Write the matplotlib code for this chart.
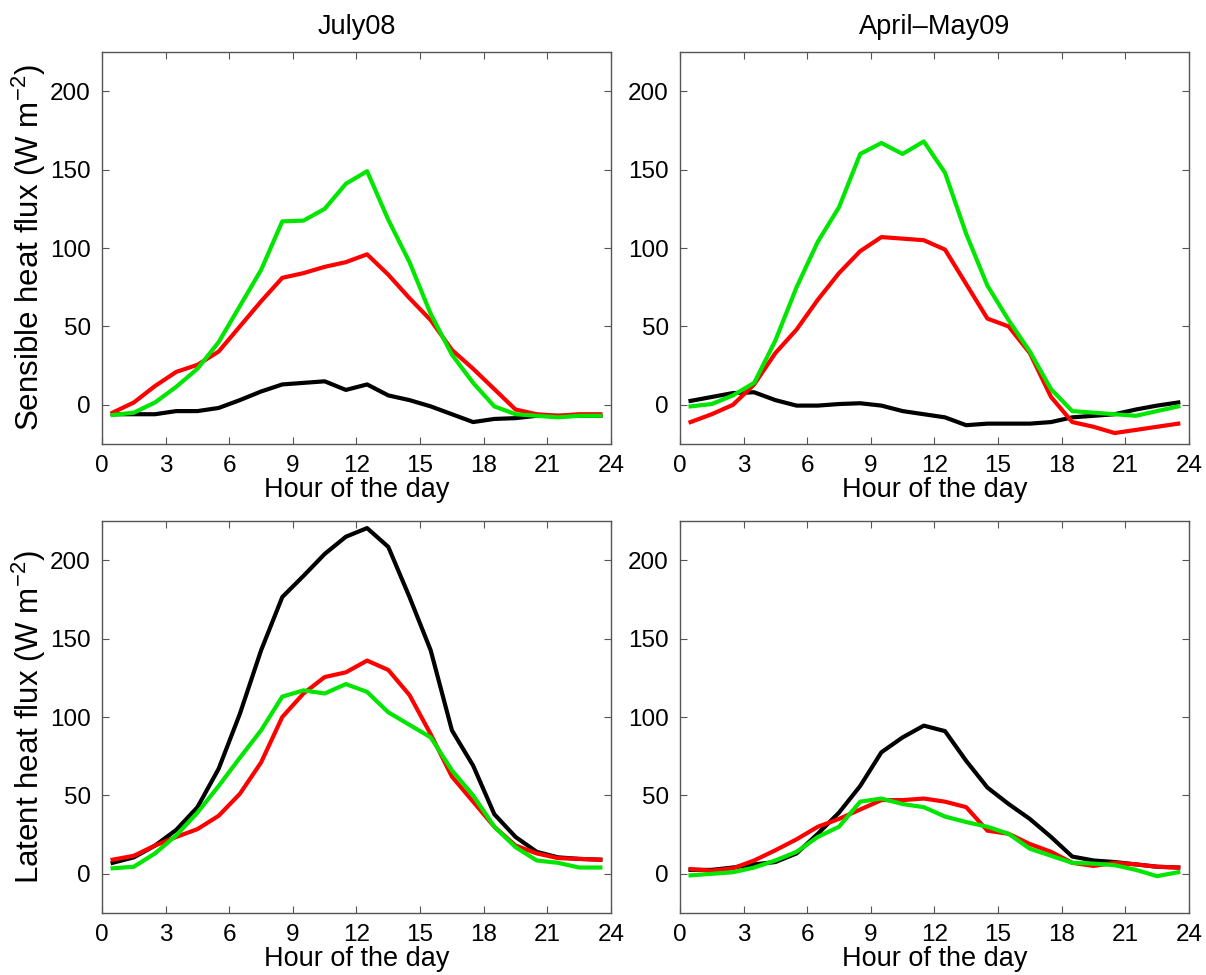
import matplotlib
matplotlib.use("Agg")
import matplotlib.pyplot as plt

plt.rcParams["font.family"] = ["Liberation Sans", "DejaVu Sans"]
plt.rcParams["mathtext.fontset"] = "custom"
plt.rcParams["mathtext.rm"] = "Liberation Sans"
plt.rcParams["mathtext.it"] = "Liberation Sans:italic"

hours = [h + 0.5 for h in range(24)]

# Sensible heat flux, July08
sh_jul_black = [-6, -6, -6, -4, -4, -2, 3, 8.5, 13, 14, 15, 9.5,
                13, 6, 3, -1, -6, -11, -9, -8.5, -7, -7, -7, -7]
sh_jul_red = [-5, 1.5, 12, 21, 25.5, 34, 50, 66, 81, 84, 88, 91,
              96, 83, 68, 54, 35, 23, 10, -3, -6, -7, -6, -6]
sh_jul_green = [-6.5, -5, 1.5, 11.5, 23, 40, 63, 86, 117, 117.5, 125, 141,
                149, 118, 91, 58, 32, 14, -1, -6, -7, -8, -7, -7]

# Sensible heat flux, April-May09
sh_apr_black = [2.5, 5, 7.5, 8, 3, -0.5, -0.5, 0.5, 1, -0.5, -4, -6,
                -8, -13, -12, -12, -12, -11, -8, -7, -6, -3, -0.5, 1.5]
sh_apr_red = [-11, -6, 0, 13, 33, 48, 67, 84, 98, 107, 106, 105,
              99, 77, 55, 50, 33, 5, -11, -14, -18, -16, -14, -12]
sh_apr_green = [-1, 0.5, 6, 14, 41, 75, 104, 126, 160, 167, 160, 168,
                148, 109, 76, 54, 34, 10, -4, -5, -6, -7, -4, -1]

# Latent heat flux, July08
lh_jul_black = [7, 10.5, 18, 28, 42.5, 67, 102, 142.5, 176.5, 190, 204, 215,
                220.5, 208.5, 176.5, 142.5, 91.5, 69, 38, 23.5, 14, 10.5, 9.5, 9]
lh_jul_red = [9, 11.5, 18, 23.5, 28.5, 37, 51, 71, 100, 115, 125.5, 128.5,
              136, 130, 114, 89, 62, 46, 30, 18, 13, 10, 9.5, 9]
lh_jul_green = [3.5, 4.5, 13, 24.5, 39, 56, 74, 91.5, 113, 117, 115, 121,
                116, 103, 95, 87, 66, 50, 30, 17, 8.5, 7, 4, 4]

# Latent heat flux, April-May09
lh_apr_black = [2.5, 2.5, 4, 6, 7.5, 13, 25.5, 39, 56, 77.5, 87, 94.5,
                91, 72, 55, 44.5, 35, 23.5, 11, 8.5, 7.5, 6, 4.5, 4]
lh_apr_red = [3, 2, 3.5, 8.5, 15, 22, 30, 35, 41, 47, 47, 48,
              46, 42.5, 27.5, 25.5, 19, 14, 7, 5, 7, 6, 4.5, 4]
lh_apr_green = [-1, 0, 1, 4, 8.5, 14, 23.5, 30, 46, 48, 44.5, 42.5,
                36.5, 33, 30, 25.5, 16, 11.5, 7, 6.5, 5.5, 2.5, -1.5, 1]

titles = ["July08", "April\u2013May09"]
ylabels = [r"Sensible heat flux (W m$^{-2}$)", r"Latent heat flux (W m$^{-2}$)"]
xticks = [0, 3, 6, 9, 12, 15, 18, 21, 24]
yticks = [0, 50, 100, 150, 200]

panels = [
    [(sh_jul_black, sh_jul_red, sh_jul_green), (sh_apr_black, sh_apr_red, sh_apr_green)],
    [(lh_jul_black, lh_jul_red, lh_jul_green), (lh_apr_black, lh_apr_red, lh_apr_green)],
]
colors = ["black", "#ff0000", "#00e600"]

fig = plt.figure(figsize=(12.06, 9.75), dpi=100)
lefts = [0.0846, 0.5638]
bottoms = [0.5446, 0.0636]

for r in range(2):
    for c in range(2):
        ax = fig.add_axes([lefts[c], bottoms[r], 0.422, 0.402])
        for data, col in zip(panels[r][c], colors):
            ax.plot(hours, data, color=col, lw=3)
        ax.set_xlim(0, 24)
        ax.set_ylim(-25, 225)
        ax.set_xticks(xticks)
        ax.set_yticks(yticks)
        ax.tick_params(direction="in", top=True, right=True, length=5,
                       width=0.8, color="#555555", labelsize=17.5, pad=8)
        for sp in ax.spines.values():
            sp.set_color("#555555")
            sp.set_linewidth(1.0)
        ax.set_xlabel("Hour of the day", fontsize=19.5, labelpad=0)
        if c == 0:
            ax.set_ylabel(ylabels[r], fontsize=22.5)
            ax.yaxis.set_label_coords(-0.107, 0.5)
        if r == 0:
            ax.set_title(titles[c], fontsize=19.5, pad=13)

fig.savefig("out.png", dpi=100)
